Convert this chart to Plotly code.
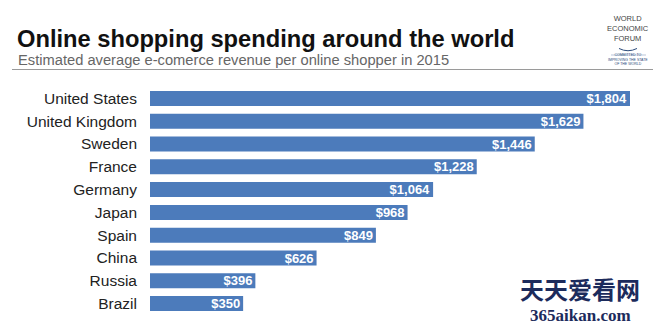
import plotly.graph_objects as go

countries = ["United States", "United Kingdom", "Sweden", "France", "Germany",
             "Japan", "Spain", "China", "Russia", "Brazil"]
spending = [1804, 1629, 1446, 1228, 1064, 968, 849, 626, 396, 350]
labels = ["$" + format(v, ",") for v in spending]

W, H = 658, 327
ML, MR, MT, MB = 150, 28, 87, 12
PW = W - ML - MR
PH = H - MT - MB

def px(x):
    return (x - ML) / PW

def py(y):
    return 1 - (y - MT) / PH

fig = go.Figure(go.Bar(
    x=spending, y=countries, orientation="h",
    marker=dict(color="#4c7bbb", line=dict(width=0)),
    text=labels, textposition="inside", insidetextanchor="end", constraintext="none",
    textfont=dict(family="Liberation Sans, Arial, sans-serif", size=13, color="white", weight="bold"),
    cliponaxis=False,
))

fig.update_layout(
    width=W, height=H,
    margin=dict(l=ML, r=MR, t=MT, b=MB),
    paper_bgcolor="white", plot_bgcolor="white",
    bargap=0.34,
    showlegend=False,
    font=dict(family="Liberation Sans, Arial, sans-serif"),
    xaxis=dict(range=[0, 1804], visible=False, fixedrange=True),
    yaxis=dict(autorange="reversed", showgrid=False, zeroline=False, showline=False,
               ticks="", ticklabelstandoff=12,
               tickfont=dict(size=15.5, color="#222222")),
)

annotations = [
    dict(text="<b>Online shopping spending around the world</b>", x=px(15), y=py(39),
         xanchor="left", yanchor="middle", font=dict(size=23.7, color="#111111")),
    dict(text="Estimated average e-comerce revenue per online shopper in 2015", x=px(16), y=py(60),
         xanchor="left", yanchor="middle", font=dict(size=14.7, color="#666666")),
    dict(text="WORLD<br>ECONOMIC<br>FORUM", x=px(628), y=py(29), xanchor="center", yanchor="middle",
         font=dict(size=7.5, color="#444444"), align="center"),
    dict(text="COMMITTED TO<br>IMPROVING THE STATE<br>OF THE WORLD", x=px(628), y=py(60), xanchor="center",
         yanchor="middle", font=dict(size=3.5, color="#2a4a7a"), align="center"),
    dict(text="<b>天天爱看网</b>", x=px(580), y=py(288), xanchor="center", yanchor="middle",
         font=dict(family="Noto Sans CJK SC", size=24, color="#1c2b5c")),
    dict(text="<b>365aikan.com</b>", x=px(580), y=py(315.5), xanchor="center", yanchor="middle",
         font=dict(family="Liberation Serif, serif", size=17, color="#1c2b5c")),
]
for a in annotations:
    a.update(xref="paper", yref="paper", showarrow=False)
fig.update_layout(annotations=annotations)

fig.add_shape(type="line", xref="paper", yref="paper", x0=px(12), x1=px(653), y0=py(69.5), y1=py(69.5),
              line=dict(color="#9a9a9a", width=1.2))
fig.add_shape(type="line", xref="paper", yref="paper", x0=px(611), x1=px(646), y0=py(55), y1=py(55),
              line=dict(color="#8aa0c0", width=0.6))
fig.add_shape(type="path", xref="paper", yref="paper",
              path="M %f,%f Q %f,%f %f,%f" % (px(619), py(48.5), px(628), py(53), px(637), py(48.5)),
              line=dict(color="#2a4a7a", width=1))

fig.write_html("out.html")
